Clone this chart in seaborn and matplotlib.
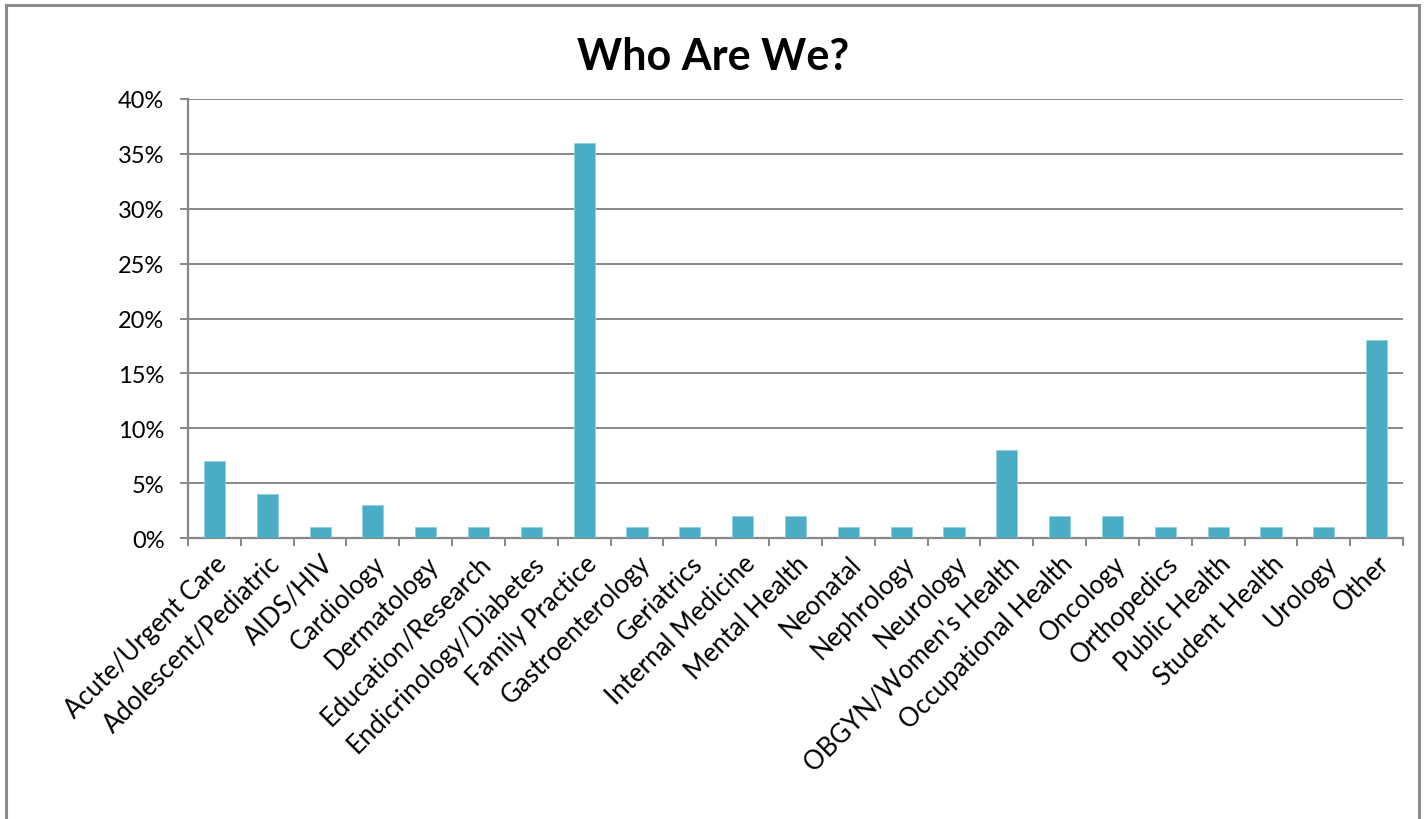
import pandas as pd
import seaborn as sns
import matplotlib.pyplot as plt
from matplotlib.patches import Rectangle
from matplotlib.ticker import PercentFormatter, FixedLocator

categories = ['Acute/Urgent Care', 'Adolescent/Pediatric', 'AIDS/HIV', 'Cardiology',
              'Dermatology', 'Education/Research', 'Endicrinology/Diabetes',
              'Family Practice', 'Gastroenterology', 'Geriatrics', 'Internal Medicine',
              'Mental Health', 'Neonatal', 'Nephrology', 'Neurology',
              "OBGYN/Women's Health", 'Occupational Health', 'Oncology', 'Orthopedics',
              'Public Health', 'Student Health', 'Urology', 'Other']
shares = [7, 4, 1, 3, 1, 1, 1, 36, 1, 1, 2, 2, 1, 1, 1, 8, 2, 2, 1, 1, 1, 1, 18]

df = pd.DataFrame({'Specialty': categories, 'Share': shares})

sns.set_style('white')
plt.rcParams['font.family'] = ['Lato', 'DejaVu Sans']
plt.rcParams['text.color'] = 'black'
plt.rcParams['xtick.labelcolor'] = 'black'
plt.rcParams['ytick.labelcolor'] = 'black'

fig = plt.figure(figsize=(14.27, 8.2), dpi=100)
ax = fig.add_axes([188 / 1427, 1 - 539 / 820, 1215 / 1427, 439 / 820])

grid_c = '#878787'
sns.barplot(data=df, x='Specialty', y='Share', color='#4BACC6', saturation=1,
            width=0.4, edgecolor='#8fd0e0', linewidth=0.6, ax=ax, zorder=3)

ax.set_ylim(0, 40)
ax.set_xlim(-0.5, len(categories) - 0.5)
ax.yaxis.set_major_locator(FixedLocator(range(0, 41, 5)))
ax.yaxis.set_major_formatter(PercentFormatter(decimals=0))
ax.grid(axis='y', color=grid_c, linewidth=1.4, zorder=0)
ax.set_axisbelow(True)

for s in ['top', 'right']:
    ax.spines[s].set_visible(False)
for s in ['left', 'bottom']:
    ax.spines[s].set_color(grid_c)
    ax.spines[s].set_linewidth(1.6)

ax.tick_params(axis='y', direction='out', length=6, width=1.4, color=grid_c,
               labelsize=17, pad=11, left=True)
ax.set_xticks([i - 0.5 for i in range(len(categories) + 1)], minor=True)
ax.tick_params(axis='x', which='minor', direction='out', length=6, width=1.4,
               color=grid_c, bottom=True)
ax.tick_params(axis='x', which='major', length=0, labelsize=18.5, pad=9)
plt.setp(ax.get_xticklabels(), rotation=45, ha='right', rotation_mode='anchor')

ax.set_xlabel('')
ax.set_ylabel('')
fig.text(713 / 1427, 1 - 57 / 820, 'Who Are We?', ha='center', va='center',
         fontsize=31, fontweight='bold')

fig.add_artist(Rectangle((6 / 1427, -0.05), 1413 / 1427, 1.05 - 6 / 820,
                         transform=fig.transFigure, fill=False,
                         edgecolor='#8c8c8c', linewidth=2.2, clip_on=False))

fig.savefig('out.png', dpi=100, facecolor='white')
